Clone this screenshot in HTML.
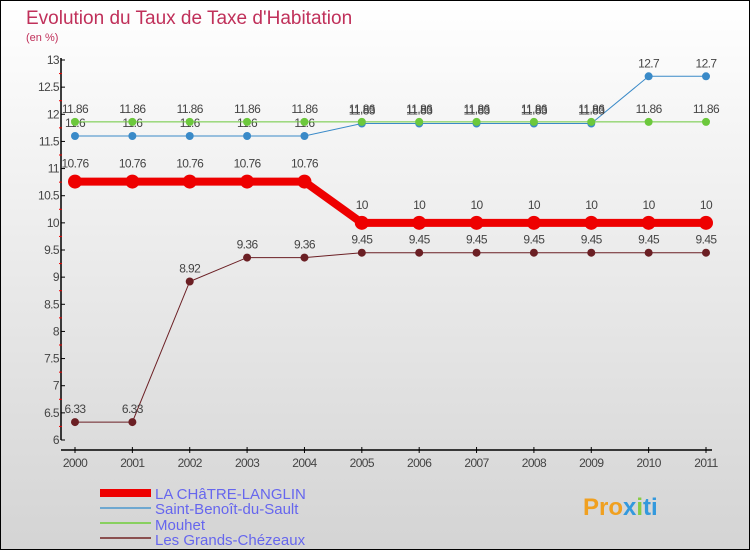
<!DOCTYPE html>
<html><head><meta charset="utf-8"><style>
html,body{margin:0;padding:0}
body{width:750px;height:550px;overflow:hidden}
svg text{font-family:"Liberation Sans",sans-serif}
</style></head><body>
<svg id="c" width="750" height="550" xmlns="http://www.w3.org/2000/svg">
<defs><linearGradient id="bg" x1="0" y1="0" x2="0" y2="1"><stop offset="0" stop-color="#ffffff"/><stop offset="1" stop-color="#d4d4d4"/></linearGradient></defs>
<rect x="0.5" y="0.5" width="749" height="549" fill="url(#bg)" stroke="#000"/>
<text x="26" y="24" font-size="19" fill="#c0305a">Evolution du Taux de Taxe d'Habitation</text>
<text x="26" y="41" font-size="11" fill="#c0305a">(en %)</text>
<g id="axes"></g><g id="series"></g>
<g>
<rect x="100" y="489" width="51" height="8" fill="#ee0000"/>
<text x="155" y="499" font-size="15" fill="#6666ee">LA CHâTRE-LANGLIN</text>
<rect x="100" y="507" width="51" height="2" fill="#6fa8d0"/>
<text x="155" y="514" font-size="15" fill="#6666ee">Saint-Benoît-du-Sault</text>
<rect x="100" y="522" width="51" height="2" fill="#88d060"/>
<text x="155" y="530" font-size="15" fill="#6666ee">Mouhet</text>
<rect x="100" y="537" width="51" height="2" fill="#8a5050"/>
<text x="155" y="545" font-size="15" fill="#6666ee">Les Grands-Chézeaux</text>
</g>
<text x="583" y="515" font-size="24" font-weight="bold" fill="#f0a020">Pro<tspan fill="#3399dd">x</tspan><tspan fill="#88cc44">i</tspan><tspan fill="#3399dd">ti</tspan></text>
</svg>
<script>
const years=[2000,2001,2002,2003,2004,2005,2006,2007,2008,2009,2010,2011];
const laChatre=[10.76,10.76,10.76,10.76,10.76,10,10,10,10,10,10,10];
const saintBenoit=[11.6,11.6,11.6,11.6,11.6,11.83,11.83,11.83,11.83,11.83,12.7,12.7];
const mouhet=[11.86,11.86,11.86,11.86,11.86,11.86,11.86,11.86,11.86,11.86,11.86,11.86];
const grandsChezeaux=[6.33,6.33,8.92,9.36,9.36,9.45,9.45,9.45,9.45,9.45,9.45,9.45];
const yTicks=[6,6.5,7,7.5,8,8.5,9,9.5,10,10.5,11,11.5,12,12.5,13];
const NS="http://www.w3.org/2000/svg";
const x=i=>75+i*(706-75)/(years.length-1);
const y=v=>440-(v-6)*(380/7);
function mk(t,a,p){const e=document.createElementNS(NS,t);for(const k in a)e.setAttribute(k,a[k]);p.appendChild(e);return e;}
const ax=document.getElementById('axes');
let l=mk('line',{x1:61,y1:58,x2:61,y2:440,stroke:'#000','stroke-width':1.5},ax);


l=mk('line',{x1:61,y1:450,x2:712,y2:450,stroke:'#000','stroke-width':1.5},ax);


yTicks.forEach(v=>{
 mk('line',{x1:61,y1:y(v),x2:65,y2:y(v),stroke:'#000'},ax);
 if(v<13)mk('line',{x1:59,y1:y(v+0.25),x2:62,y2:y(v+0.25),stroke:'#e00'},ax);
 const t=mk('text',{x:59,y:y(v)+4,'font-size':12,fill:'#444','text-anchor':'end','letter-spacing':'-0.6'},ax);
 t.textContent=String(v);
 
 
});
years.forEach((yr,i)=>{
 mk('line',{x1:x(i),y1:447,x2:x(i),y2:453,stroke:'#000'},ax);
 const t=mk('text',{x:x(i),y:467,'font-size':12,fill:'#444','text-anchor':'middle','letter-spacing':'-0.6'},ax);
 t.textContent=String(yr);
 
 
});
const sg=document.getElementById('series');
function series(vals,color,w,r,name,dy){
 const g=mk('g',{},sg);
 
 
 const p=mk('polyline',{points:vals.map((v,i)=>x(i)+','+y(v)).join(' '),fill:'none',stroke:color,'stroke-width':w},g);
 
 
 vals.forEach((v,i)=>{
  const c=mk('circle',{cx:x(i),cy:y(v),r:r,fill:color},g);
  
  
  const t=mk('text',{x:x(i),y:y(v)-dy,'font-size':12,fill:'#444','text-anchor':'middle','letter-spacing':'-0.6'},g);
  t.textContent=String(v);
  
  
 });
}
series(grandsChezeaux,'#6b1f24',1,4,'les-grands-chezeaux',9);
series(saintBenoit,'#3a8ac8',1,4,'saint-benoit-du-sault',9);
series(mouhet,'#6cc83c',1,4,'mouhet',9);
series(laChatre,'#ee0000',8,7,'la-chatre-langlin',14);
</script>
</body></html>
